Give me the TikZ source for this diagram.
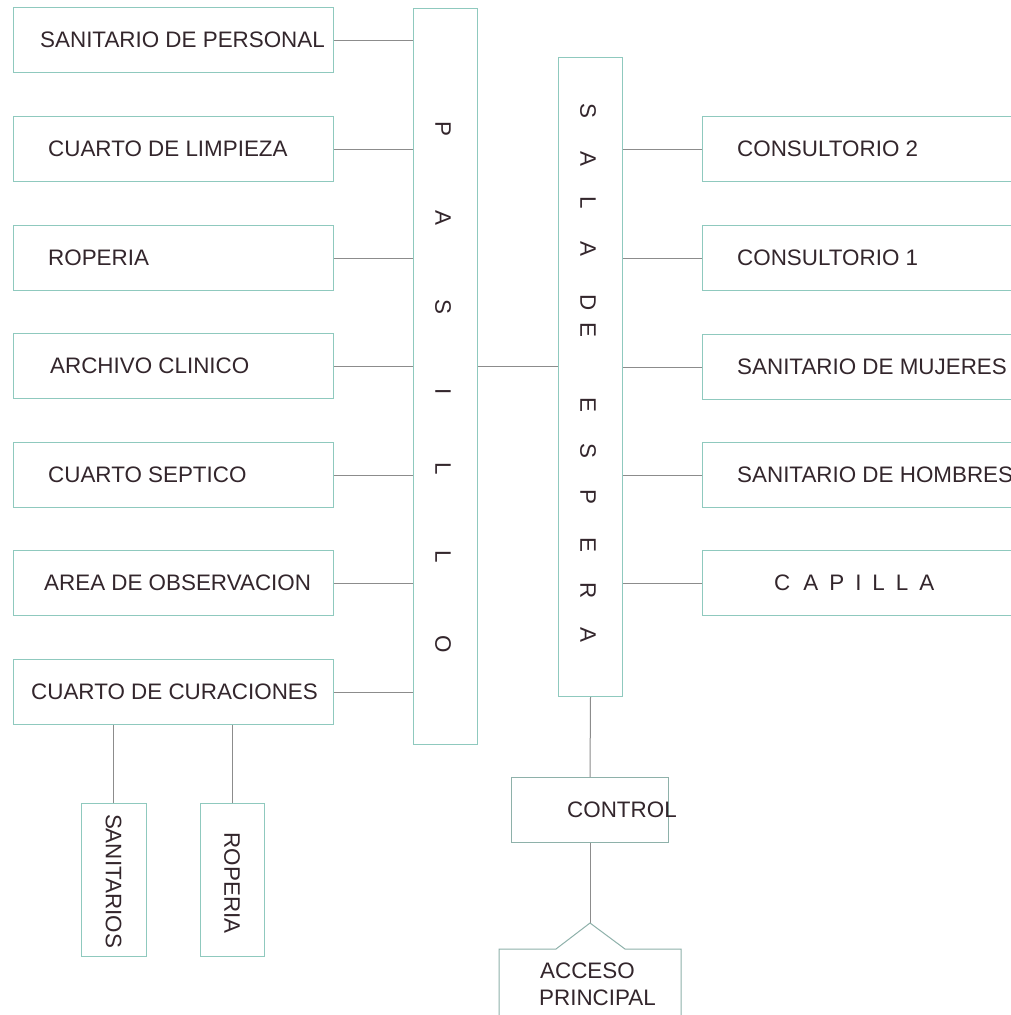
\documentclass[tikz,border=0pt]{standalone}
\usepackage{fontspec}
\setmainfont{Liberation Sans}
\definecolor{boxline}{HTML}{8FC9BE}
\definecolor{linkline}{HTML}{8C8C8C}
\definecolor{ink}{HTML}{33262C}
\begin{document}
\begin{tikzpicture}[x=1pt, y=-1pt,
  room/.style={draw=boxline, line width=1pt, minimum width=320pt, minimum height=65pt,
               anchor=north west, inner sep=0pt},
  column/.style={draw=boxline, line width=1pt, minimum width=64pt, anchor=north west, inner sep=0pt},
  label/.style={text=ink, font=\fontsize{22.4}{26}\selectfont, inner sep=0pt},
  vletter/.style={label, rotate=-90},
  link/.style={draw=linkline, line width=1pt}]
\useasboundingbox (0,0) rectangle (1011,1015);
\fill[white] (0,0) rectangle (1011,1015);
\clip (0,0) rectangle (1011,1015);

% corridor and waiting room columns
\node[column, minimum height=736pt] (pas) at (413,8) {};
\node[column, minimum height=639pt] (sala) at (558,57) {};

\foreach \ch/\yy [count=\i] in {P/129, A/218, S/307, I/392, L/469, L/557, O/644}
  \node[vletter] (pas-\i) at (443,\yy) {\ch};
\foreach \ch/\yy [count=\i] in {S/111, A/159, L/203, A/249, D/303, E/330,
                                E/405, S/451, P/497, E/545, R/591, A/635}
  \node[vletter] (sala-\i) at (588,\yy) {\ch};

% rooms along the corridor
\foreach \n/\yy/\tx/\t in {sp/7/40/SANITARIO DE PERSONAL, cl/116/48/CUARTO DE LIMPIEZA,
    rop/225/48/ROPERIA, ac/333/50/ARCHIVO CLINICO, cs/442/48/CUARTO SEPTICO,
    ao/550/44/AREA DE OBSERVACION, cc/659/31/CUARTO DE CURACIONES} {
  \node[room] (\n) at (13,\yy) {};
  \node[label, anchor=west] (\n-t) at ({\tx},{\yy+33}) {\t};
  \path[link] (\n.east) -- (\n.east -| pas.west);
}

% corridor to waiting room
\path[link] (pas.east |- ac.east) -- (sala.west |- ac.east);

% rooms off the waiting room
\foreach \n/\yy/\t in {c2/116/CONSULTORIO 2, c1/225/CONSULTORIO 1,
    sm/334/SANITARIO DE MUJERES, sh/442/SANITARIO DE HOMBRES} {
  \node[room] (\n) at (702,\yy) {};
  \node[label, anchor=west] (\n-t) at (737,{\yy+33}) {\t};
  \path[link] (\n.west -| sala.east) -- (\n.west);
}
\node[room] (cap) at (702,550) {};
\node[label, anchor=west] (cap-t) at (774,583)
  {C\hspace{13pt}A\hspace{11pt}P\hspace{11pt}I\hspace{11pt}L\hspace{11pt}L\hspace{11pt}A};
\path[link] (cap.west -| sala.east) -- (cap.west);

% rooms off the treatment room
\node[draw=boxline, line width=1pt, rotate=-90, minimum width=153pt, minimum height=65pt,
      inner sep=0pt] (san) at (113.5,879.5) {};
\node[vletter] (san-t) at (113.5,881) {SANITARIOS};
\node[draw=boxline, line width=1pt, rotate=-90, minimum width=153pt, minimum height=64pt,
      inner sep=0pt] (rop2) at (232,879.5) {};
\node[vletter] (rop2-t) at (232,883) {ROPERIA};
\path[link] (san.center |- cc.south) -- (san.west);
\path[link] (rop2.center |- cc.south) -- (rop2.west);

% entrance control
\node[draw=boxline!60!linkline, line width=1pt, minimum width=157pt, minimum height=65pt,
      anchor=north west, inner sep=0pt] (ctrl) at (511,777) {};
\node[label, anchor=west] (ctrl-t) at (567,809.5) {CONTROL};
\path[link] (sala.south) -- (ctrl.north);

% main entrance with its gable
\coordinate (apex) at (590,923);
\path[link] (ctrl.south) -- (apex);
\draw[boxline!60!linkline, line width=1pt]
  (499,1030) -- (499,949) -- (556,949) -- (apex) -- (625,949) -- (681,949) -- (681,1030);
\node[label, anchor=base west] (acc1) at (540,978) {ACCESO};
\node[label, anchor=base west] (acc2) at (539,1005) {PRINCIPAL};
\end{tikzpicture}
\end{document}
